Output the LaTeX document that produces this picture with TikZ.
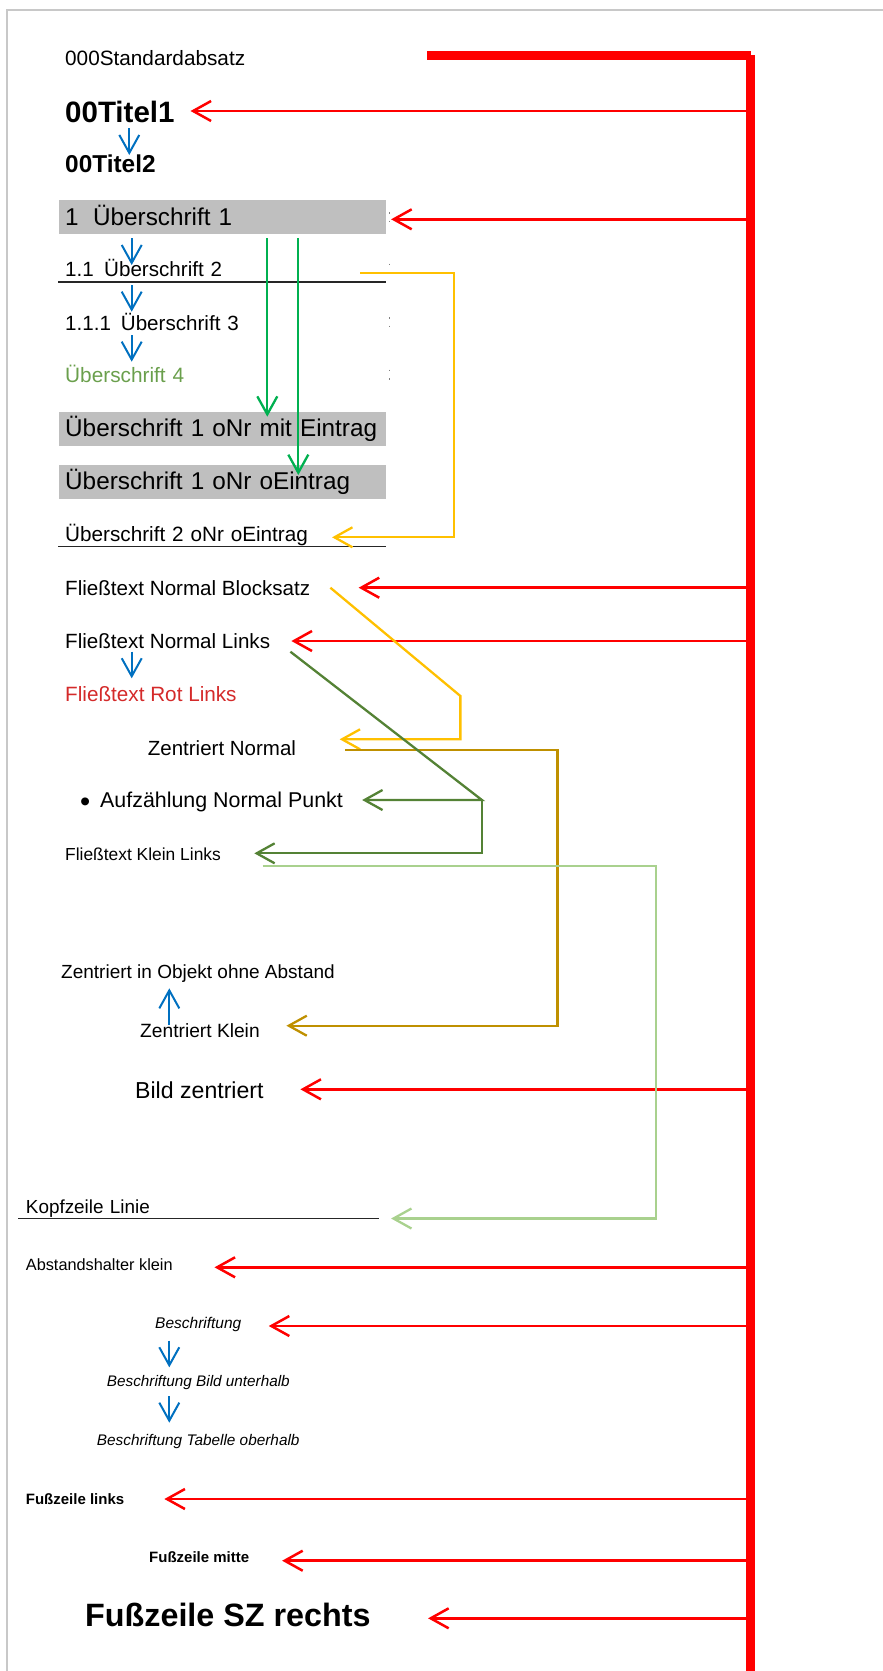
\documentclass[tikz,border=0pt]{standalone}
\usepackage{fontspec}
\setmainfont{Liberation Sans}
\usetikzlibrary{arrows.meta}

\definecolor{pagegray}{HTML}{C8C8C8}
\definecolor{boxgray}{HTML}{BFBFBF}
\definecolor{textgreen}{HTML}{6A9F4C}
\definecolor{textred}{HTML}{D42A2A}
\definecolor{linkred}{HTML}{FF0000}
\definecolor{linkblue}{HTML}{0070C0}
\definecolor{linkgreen}{HTML}{00B050}
\definecolor{linkyellow}{HTML}{FFC000}
\definecolor{linkolive}{HTML}{548235}
\definecolor{linkgold}{HTML}{BF9000}
\definecolor{linklight}{HTML}{A9D18E}
\newcommand{\pxsize}[1]{\fontsize{#1}{#1}\selectfont}

\begin{document}
\begin{tikzpicture}[x=1pt, y=-1pt,
    every node/.style={inner sep=0pt, anchor=base west},
    para/.style={font=\pxsize{#1}},
    bold/.style={font=\bfseries\pxsize{#1}},
    slant/.style={font=\itshape\pxsize{#1}},
    headline/.style={inner xsep=6.7pt, inner ysep=0pt, text width=314.3pt, align=left},
    ruledpar/.style={headline, text depth=5pt},
    graybox/.style={headline, fill=boxgray, text height=25pt, text depth=9pt, font=\pxsize{24.3}},
    rule/.style={line width=1.3pt, black!85},
    pmark/.style={line width=1.3pt, gray, dash pattern=on 1.5pt off 7pt},
    arrow/.style={-{Straight Barb[length=18pt,width=20pt]}, line width=2.3pt},
    redarrow/.style={arrow, linkred, line width=2.5pt}
]
    \useasboundingbox (0,0) rectangle (883,1671);

    % Page edge and the red bar
    \draw[pagegray, line width=2pt] (7,1671) -- (7,10) -- (883,10);
    \draw[linkred, line width=9pt] (427,55.5) -- (751,55.5);
    \draw[linkred, line width=9pt] (750.5,55) -- (750.5,1671);
    \coordinate (redbar) at (750.5,55);

    % Titles
    \node (std) [para=20.75] at (65,65.7) {000Standardabsatz};
    \node (titel1) [bold=29.5] at (65,122) {00Titel1};
    \node (titel2) [bold=24.4] at (65,172) {00Titel2};

    % Headings
    \node (ue1) [graybox] at (58.3,225) {1\hspace{14.4pt}Überschrift 1};
    \node (ue2) [ruledpar, para=20.6] at (58.3,276.7) {1.1\hspace{10.4pt}Überschrift 2};
    \node (ue3) [headline, para=20.6] at (58.3,330) {1.1.1\hspace{9.9pt}Überschrift 3};
    \node (ue4) [headline, para=20.8, text=textgreen] at (58.3,382.7) {Überschrift 4};
    \node (uenrmit) [graybox] at (58.3,436.5) {Überschrift 1 oNr mit Eintrag};
    \node (uenro) [graybox] at (58.3,489.5) {Überschrift 1 oNr oEintrag};
    \node (ue2o) [ruledpar, para=20.7] at (58.3,541) {Überschrift 2 oNr oEintrag};
    \draw[rule] (ue2.south west) -- (ue2.south east);
    \draw[rule] (ue2o.south west) -- (ue2o.south east);
    \foreach \h in {ue1,ue2,ue3,ue4}
        \draw[pmark] ([shift={(3.3,-13)}]\h.base east) -- ([shift={(3.3,-1.5)}]\h.base east);

    % Body text
    \node (blocksatz) [para=20.6] at (65,595) {Fließtext Normal Blocksatz};
    \node (normlinks) [para=20.6] at (65,648.3) {Fließtext Normal Links};
    \node (rotlinks) [para=20.7, text=textred] at (65,701.7) {Fließtext Rot Links};
    \node (zentnorm) [para=20.5] at (147.7,755) {Zentriert Normal};
    \node (aufz) [para=21.4] at (100,807.7) {\llap{\raisebox{-4pt}{\pxsize{29}•}\hspace{10pt}}Aufzählung Normal Punkt};
    \node (fkl) [para=17.4] at (65,860) {Fließtext Klein Links};
    \node (objekt) [para=19] at (61,978.3) {Zentriert in Objekt ohne Abstand};
    \node (zentklein) [para=19.2] at (140,1037.3) {Zentriert Klein};
    \node (bild) [para=23.1] at (135,1098.3) {Bild zentriert};

    % Header, captions, footer
    \node (kopf) [ruledpar, para=18.9, inner xsep=7.4pt, text width=345.9pt] at (18.3,1213.3) {Kopfzeile Linie};
    \draw[rule] (kopf.south west) -- (kopf.south east);
    \node (abstand) [para=16.3] at (25.7,1270.7) {Abstandshalter klein};
    \node (beschr) [slant=15.5] at (155,1328.3) {Beschriftung};
    \node (bildunter) [slant=15.3] at (106.7,1386.7) {Beschriftung Bild unterhalb};
    \node (tabober) [slant=15.36] at (96.7,1445) {Beschriftung Tabelle oberhalb};
    \node (fusslinks) [bold=15] at (25.7,1504) {Fußzeile links};
    \node (fussmitte) [bold=15] at (149,1562.3) {Fußzeile mitte};
    \node (fussrechts) [bold=32.3] at (85,1626.7) {Fußzeile SZ rechts};

    % Arrows from the red bar
    \foreach \n/\dx/\dy in {titel1/15.8/-11, ue1/4.7/-5.7, blocksatz/48.3/-7.3, normlinks/21.1/-7.3,
        bild/36.6/-9, abstand/41.6/-3.4, beschr/27.2/-2.3, fusslinks/39.9/-5,
        fussmitte/32.7/-1.6, fussrechts/57.3/-8.4} {
        \coordinate (redtip) at ([shift={(\dx,\dy)}]\n.base east);
        \draw[redarrow] (redtip -| redbar) -- (redtip);
    }

    % Next style arrows
    \draw[arrow, linkblue, line width=2pt] ([shift={(64.3,6)}]titel1.base west) -- ([shift={(64.3,-17)}]titel2.base west);
    \draw[arrow, linkblue, line width=2pt] ([shift={(73.4,13)}]ue1.base west) -- ([shift={(73.4,-11.7)}]ue2.base west);
    \draw[arrow, linkblue, line width=2pt] ([shift={(73.4,8.3)}]ue2.base west) -- ([shift={(73.4,-18.3)}]ue3.base west);
    \draw[arrow, linkblue, line width=2pt] ([shift={(73.4,5)}]ue3.base west) -- ([shift={(73.4,-21)}]ue4.base west);
    \draw[arrow, linkblue, line width=2pt] ([shift={(66.7,3.4)}]normlinks.base west) -- ([shift={(66.7,-23.4)}]rotlinks.base west);
    \draw[arrow, linkblue, line width=2pt] ([shift={(29.3,-12.3)}]zentklein.base west) -- ([shift={(108.3,10)}]objekt.base west);
    \draw[arrow, linkblue, line width=2pt] ([shift={(14.3,12.4)}]beschr.base west) -- ([shift={(62.6,-19.4)}]bildunter.base west);
    \draw[arrow, linkblue, line width=2pt] ([shift={(62.6,9.3)}]bildunter.base west) -- ([shift={(72.6,-22.3)}]tabober.base west);

    % Heading arrows
    \draw[arrow, linkgreen] ([shift={(209,13)}]ue1.base west) -- ([shift={(209,-19.8)}]uenrmit.base west);
    \draw[arrow, linkgreen] ([shift={(240,13)}]ue1.base west) -- ([shift={(240,-14.5)}]uenro.base west);
    \draw[arrow, linkyellow] ([shift={(-26,-3.4)}]ue2.base east) -- ++(93.3,0) |- ([shift={(-54.3,-3.7)}]ue2o.base east);

    % Body text arrows
    \draw[arrow, linkyellow] ([shift={(20,-7.3)}]blocksatz.base east) -- ++(130,108.3) |- ([shift={(43.5,-15.7)}]zentnorm.base east);
    \draw[arrow, linkgold] ([shift={(49.2,-5)}]zentnorm.base east) -- ++(212,0) |- ([shift={(26.5,-11.6)}]zentklein.base east);
    \draw[arrow, linkolive] ([shift={(20.1,3.4)}]normlinks.base east) -- ++(191.5,148.3) coordinate (olivefork) |- ([shift={(19.1,-7.7)}]aufz.base east);
    \draw[arrow, linkolive] (olivefork) |- ([shift={(33.2,-6.7)}]fkl.base east);
    \draw[arrow, linklight] ([shift={(41.5,6)}]fkl.base east) -- ++(393.7,0) |- ([shift={(11.7,0)}]kopf.south east);

\end{tikzpicture}
\end{document}
